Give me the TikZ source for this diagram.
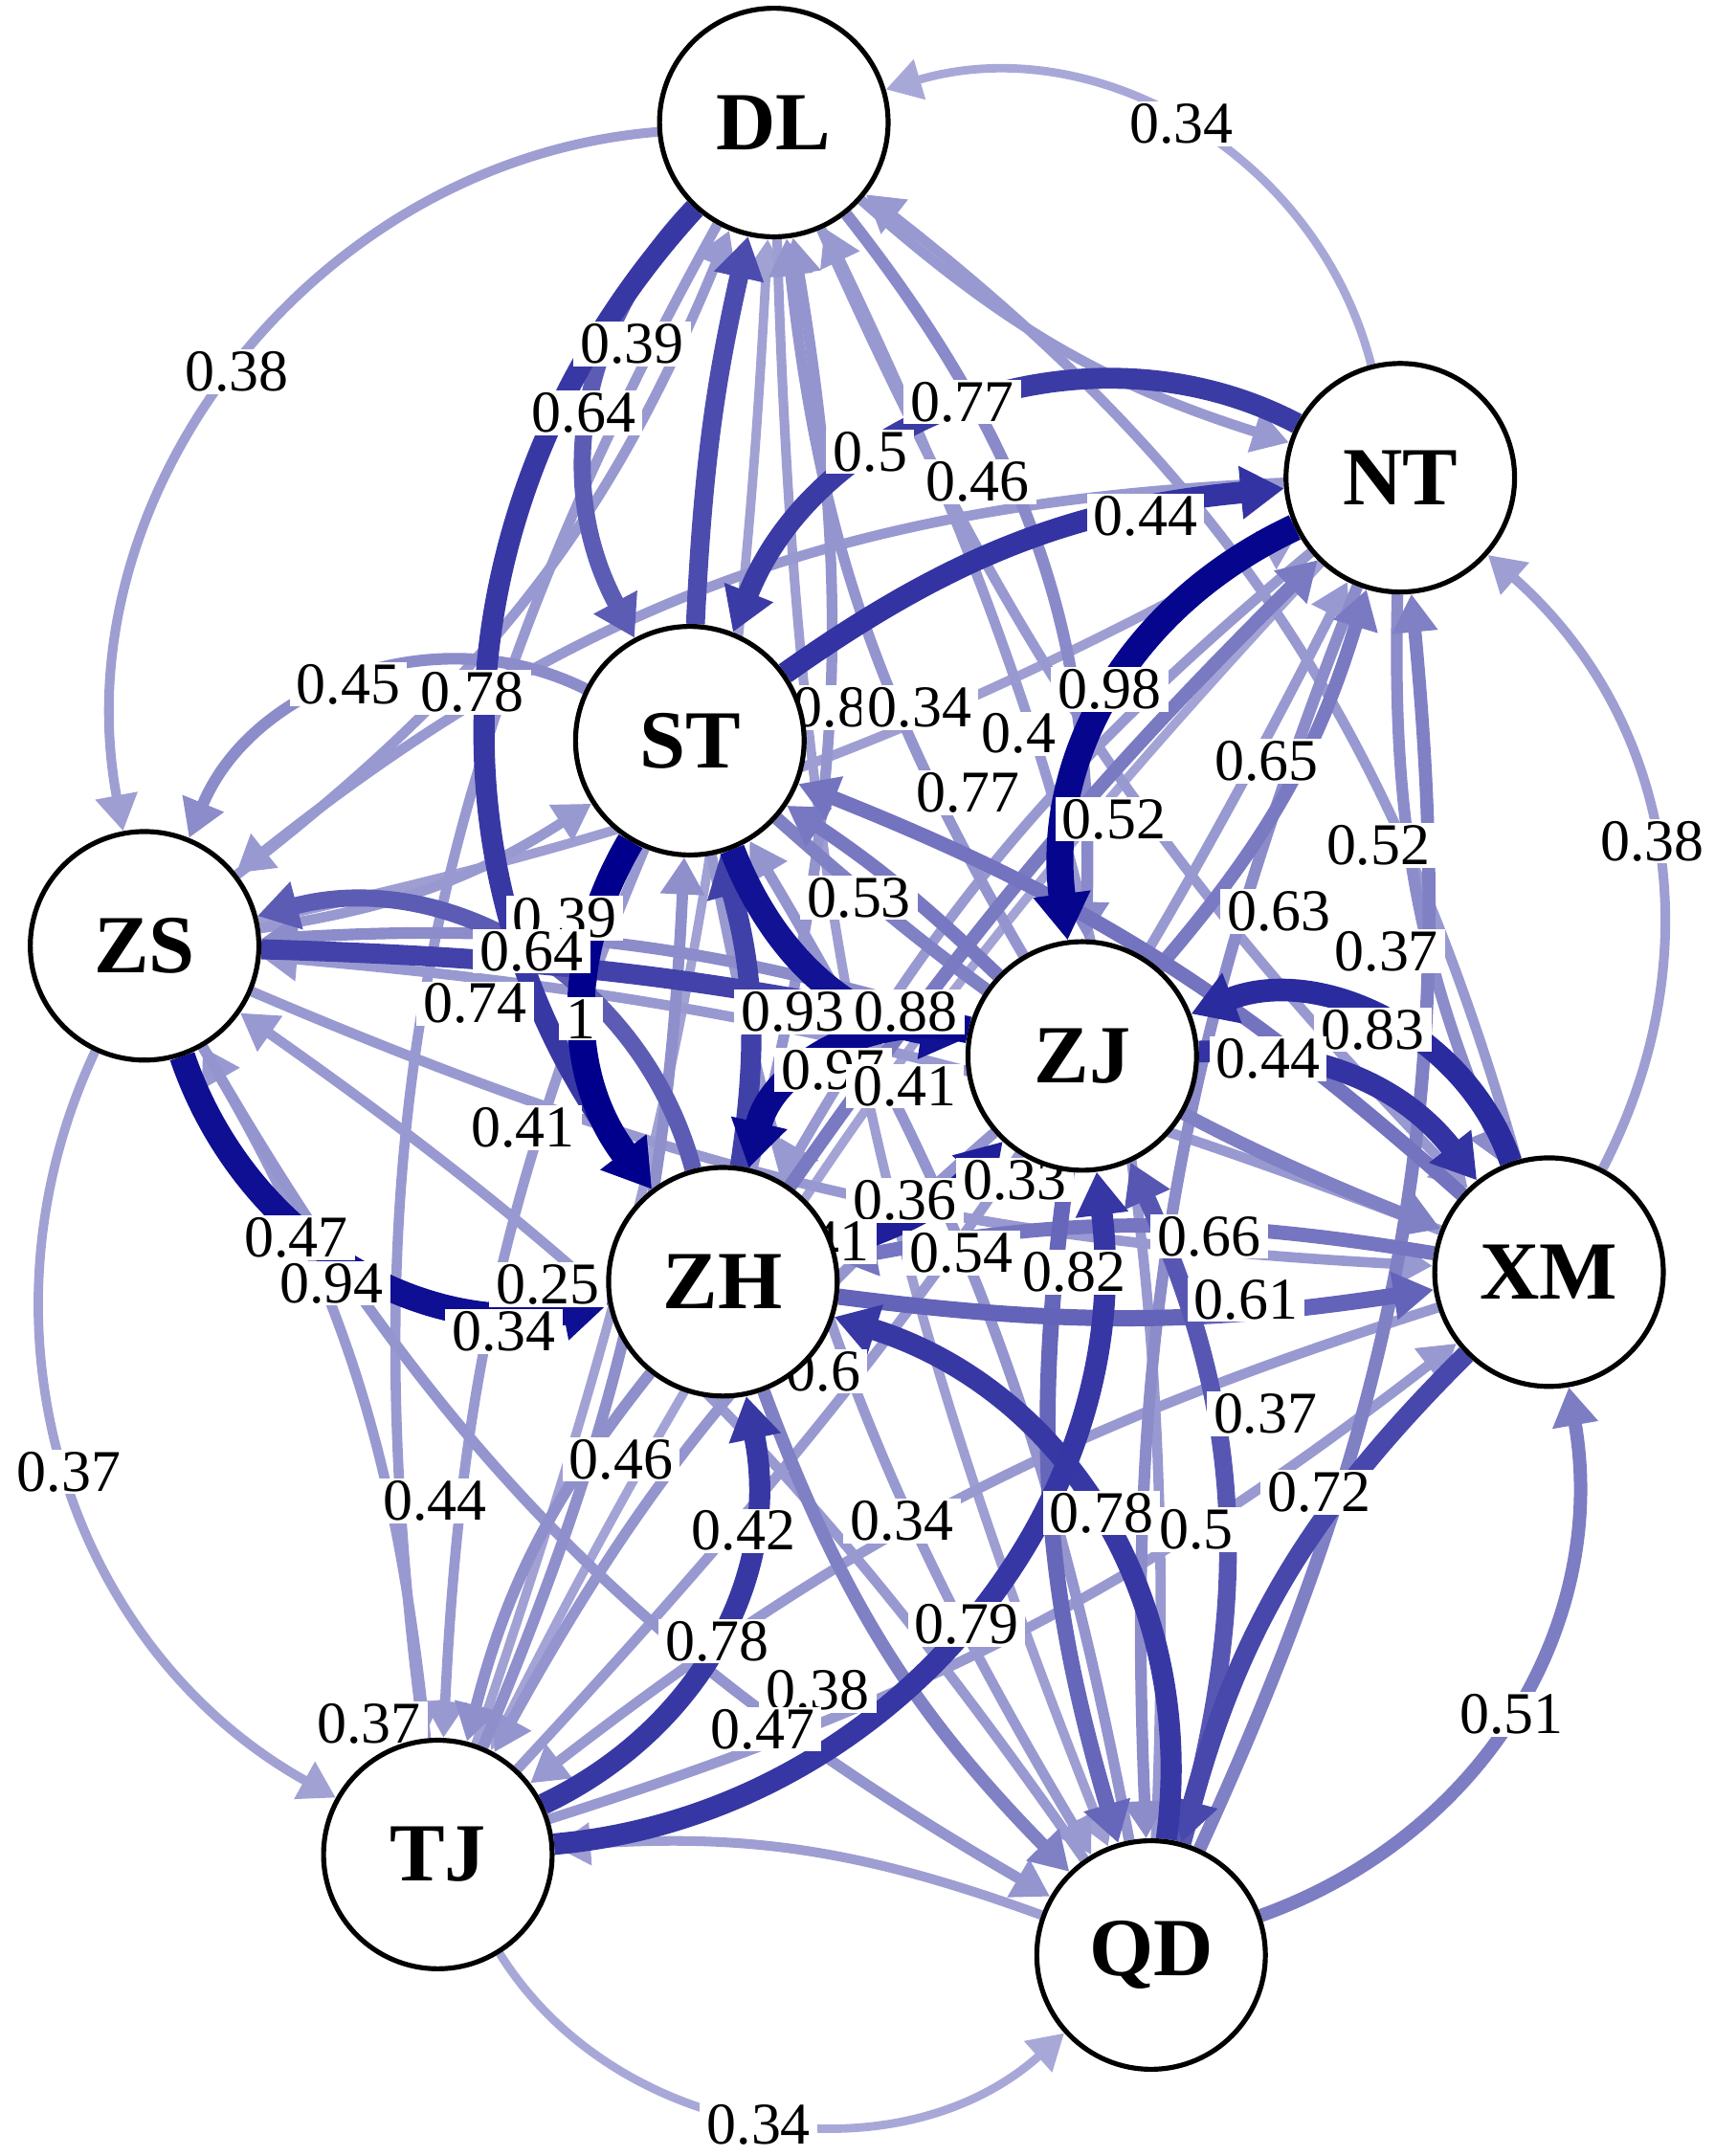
\documentclass[tikz,border=0pt]{standalone}
\usepackage{fontspec}
\setmainfont{Liberation Serif}
\usetikzlibrary{arrows.meta,backgrounds}
\definecolor{edgeblue}{RGB}{0,0,140}

\begin{document}
\begin{tikzpicture}[
  x = 0.5pt, y = -0.5pt,
  station/.style = {circle, draw, line width = 1.8pt, fill = white,
    minimum size = 83pt, inner sep = 0pt,
    font = \fontsize{30}{30}\selectfont\bfseries},
  link/.style = {-{Triangle[length = 11pt 0.6, width = 12pt 0.8]}},
  weight/.style = {fill = white, inner xsep = 2.5pt, inner ysep = 0.8pt,
    font = \fontsize{21.5}{21.5}\selectfont},
  ]
  \useasboundingbox (0,0) rectangle (1245,1566);
  \node[station] (DL) at (562,89)   {DL};
  \node[station] (NT) at (1017,347) {NT};
  \node[station] (ST) at (501,538)  {ST};
  \node[station] (ZS) at (105,687)  {ZS};
  \node[station] (ZJ) at (786,767)  {ZJ};
  \node[station] (XM) at (1125,924) {XM};
  \node[station] (ZH) at (525,931)  {ZH};
  \node[station] (TJ) at (318,1347) {TJ};
  \node[station] (QD) at (836,1420) {QD};
  \begin{scope}[on background layer]
    % edges, lightest first
    \foreach \src/\dst/\w/\bd in {
      NT/DL/0.34/-46, TJ/QD/0.34/-50, NT/TJ/0.36/-8, TJ/DL/0.37/-8,
      ZS/TJ/0.37/-43, DL/ZS/0.38/-48, DL/QD/0.38/-10, ZS/NT/0.38/-8,
      XM/NT/0.38/-38, QD/TJ/0.38/-12, DL/NT/0.40/-12, ZS/DL/0.40/-15,
      DL/XM/0.40/-10, XM/DL/0.40/-18, DL/TJ/0.40/-18, QD/DL/0.40/-14,
      NT/ZS/0.40/-18, NT/ZH/0.40/-10, TJ/NT/0.40/-8, ZS/ST/0.40/-12,
      ST/TJ/0.40/-10, ST/QD/0.40/-10, ZS/XM/0.40/-10, XM/ZS/0.40/-8,
      TJ/ZS/0.40/-12, QD/ZS/0.40/-10, XM/TJ/0.40/-10, TJ/XM/0.40/-10,
      ZJ/DL/0.42/12, ZH/DL/0.42/-12, QD/ST/0.42/-10, ZS/QD/0.42/-15,
      ZJ/TJ/0.42/-10, TJ/ST/0.44/-10, ZH/TJ/0.44/-12, NT/XM/0.45/-12,
      NT/QD/0.45/-12, ST/ZS/0.45/-47, ZJ/ZS/0.45/-10, DL/ZJ/0.46/20,
      QD/NT/0.50/-15, ST/XM/0.50/-10, ZH/QD/0.50/-12, QD/XM/0.51/-40,
      ZJ/NT/0.52/-12, ZH/NT/0.52/5, ZJ/ST/0.53/-5, XM/ZH/0.54/-10,
      XM/ST/0.55/-10, ZJ/QD/0.60/-12, ZH/XM/0.61/-8, DL/ST/0.64/-36,
      ZH/ZS/0.64/-45, QD/ZJ/0.66/-20, ST/DL/0.70/5, XM/QD/0.72/-15,
      ZS/ZJ/0.74/5, ZH/ST/0.75/-12, NT/ST/0.77/-48, DL/ZH/0.78/-40,
      TJ/ZH/0.78/-38, QD/ZH/0.78/-40, TJ/ZJ/0.79/-46, ST/NT/0.80/15,
      ZJ/XM/0.80/27, XM/ZJ/0.83/-46, ZH/ZJ/0.88/-15, ST/ZJ/0.93/-30,
      ZS/ZH/0.94/-41, ZJ/ZH/0.97/-45, NT/ZJ/0.98/-36, ST/ZH/1.00/-34}{
      \pgfmathtruncatemacro{\pc}{round(100*\w)}
      \pgfmathsetmacro{\lw}{10.5*\w-0.5}
      \draw[link, draw = edgeblue!\pc!white, line width = \lw pt]
        (\src) to[bend left = \bd] (\dst);
    }
    % weights
    \foreach \lx/\ly/\lt in {
      858/90/0.34, 172/270/0.38, 459/250/0.39, 424/300/0.64,
      699/292/0.77, 632/328/0.5, 710/350/0.46, 832/375/0.44,
      253/497/0.45, 343/503/0.78, 603/514/0.8, 668/514/0.34,
      740/533/0.4, 806/501/0.98, 703/576/0.77, 809/595/0.52,
      920/553/0.65, 1001/614/0.52, 1200/611/0.38, 929/662/0.63,
      1007/691/0.37, 410/667/0.39, 386/691/0.64, 345/729/0.74,
      422/740/1, 624/652/0.53, 576/735/0.93, 658/735/0.88,
      605/777/0.97, 657/789/0.41, 997/748/0.83, 921/769/0.44,
      380/819/0.41, 215/899/0.47, 241/932/0.94, 398/933/0.25,
      366/967/0.34, 657/872/0.36, 737/857/0.33, 594/902/0.41,
      698/910/0.54, 780/924/0.82, 878/898/0.66, 905/944/0.61,
      598/996/0.6, 50/1069/0.37, 316/1090/0.44, 451/1060/0.46,
      540/1112/0.42, 655/1105/0.34, 800/1099/0.78, 869/1111/0.5,
      919/1027/0.37, 958/1084/0.72, 702/1180/0.79, 521/1192/0.78,
      594/1228/0.38, 554/1256/0.47, 268/1252/0.37, 1098/1245/0.51,
      551/1543/0.34}
      \node[weight] at (\lx,\ly) {\lt};
  \end{scope}
\end{tikzpicture}
\end{document}
